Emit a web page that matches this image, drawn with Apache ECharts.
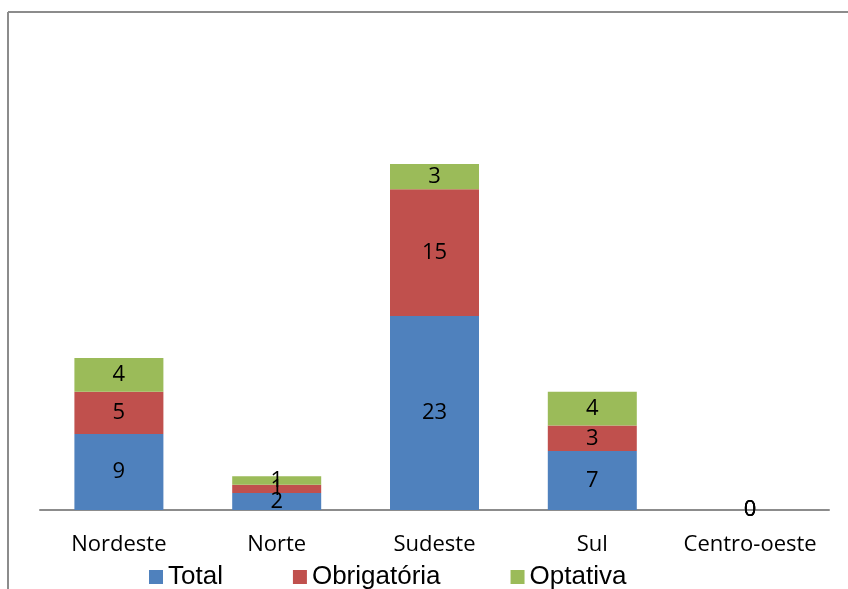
<!DOCTYPE html>
<html>
<head>
<meta charset="utf-8">
<script src="https://cdn.jsdelivr.net/npm/echarts@6/dist/echarts.min.js"></script>
<style>
  html, body { margin: 0; padding: 0; background: #fff; }
  #chart { width: 848px; height: 589px; }
</style>
</head>
<body>
<div id="chart"></div>
<script>
// dados
var regioes = ['Nordeste', 'Norte', 'Sudeste', 'Sul', 'Centro-oeste']
var total = [9, 2, 23, 7, 0]
var obrigatoria = [5, 1, 15, 3, 0]
var optativa = [4, 1, 3, 4, 0]

var chart = echarts.init(document.getElementById('chart'))

var labelStyle = {
    show: true,
    position: 'inside',
    color: '#000',
    fontSize: 22,
    fontFamily: 'Open Sans'
}

chart.setOption({
    animation: false,
    // moldura cortada à direita e embaixo
    graphic: [
        { type: 'line', shape: { x1: 8, y1: 12, x2: 848, y2: 12 }, style: { stroke: '#8c8c8c', lineWidth: 2 } },
        { type: 'line', shape: { x1: 8, y1: 12, x2: 8, y2: 589 }, style: { stroke: '#8c8c8c', lineWidth: 2 } }
    ],
    grid: {
        left: 40,
        right: 19,
        top: 88,
        bottom: 79
    },
    legend: {
        left: 144,
        top: 559,
        itemWidth: 14,
        itemHeight: 14,
        itemGap: 70,
        icon: 'rect',
        textStyle: {
            fontSize: 26,
            fontFamily: 'Liberation Sans',
            color: '#000'
        },
        data: ['Total', 'Obrigatória', 'Optativa']
    },
    xAxis: {
        type: 'category',
        data: regioes,
        axisLine: { lineStyle: { color: '#8c8c8c', width: 2 } },
        axisTick: { show: false },
        axisLabel: {
            interval: 0,
            color: '#000',
            fontSize: 22,
            fontFamily: 'Open Sans',
            margin: 24
        }
    },
    yAxis: {
        type: 'value',
        min: 0,
        max: 50,
        show: false,
        splitLine: { show: false }
    },
    series: [
        {
            name: 'Total',
            type: 'bar',
            stack: 'a',
            barWidth: 89,
            data: total,
            itemStyle: { color: '#4f81bd' },
            label: labelStyle
        },
        {
            name: 'Obrigatória',
            type: 'bar',
            stack: 'a',
            barWidth: 89,
            data: obrigatoria,
            itemStyle: { color: '#c0504d' },
            label: labelStyle
        },
        {
            name: 'Optativa',
            type: 'bar',
            stack: 'a',
            barWidth: 89,
            data: optativa,
            itemStyle: { color: '#9bbb59' },
            label: labelStyle
        }
    ]
})
</script>
</body>
</html>
